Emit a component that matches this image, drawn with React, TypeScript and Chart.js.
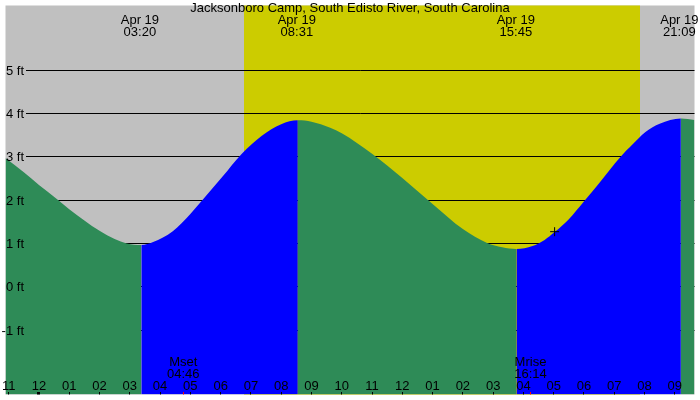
import React, { useEffect, useRef } from "react";
import { Chart, registerables } from "chart.js";

Chart.register(...registerables);

const TITLE = "Jacksonboro Camp, South Edisto River, South Carolina";

// Tide curve: hours after Apr 19 00:00, height in feet
const tideHours = [
  -1.11, -0.5, 0.0, 0.62, 1.0, 1.5, 2.0, 2.5, 2.9, 3.38,
  3.77, 4.42, 5.0, 5.4, 6.05, 6.7, 7.35, 8.0, 8.55,
  9.0, 9.62, 10.0, 10.5, 11.0, 11.5, 12.0, 13.0, 14.0, 14.8, 15.3, 15.77,
  16.3, 16.7, 17.03, 17.5, 18.01, 18.5, 19.21, 19.6, 20.03, 20.5, 21.2, 21.65,
];
const tideFeet = [
  2.96, 2.63, 2.34, 2.0, 1.78, 1.52, 1.28, 1.09, 0.99, 0.95,
  1.02, 1.27, 1.67, 1.99, 2.52, 3.06, 3.47, 3.74, 3.83,
  3.8, 3.66, 3.53, 3.31, 3.06, 2.79, 2.5, 1.9, 1.32, 1.0, 0.9, 0.86,
  0.93, 1.07, 1.25, 1.55, 1.97, 2.38, 2.99, 3.27, 3.56, 3.75, 3.87, 3.84,
];

// High / low tide labels along the top
const extremeHours = [3.333, 8.517, 15.75, 21.15];
const extremeDates = ["Apr 19", "Apr 19", "Apr 19", "Apr 19"];
const extremeTimes = ["03:20", "08:31", "15:45", "21:09"];

// Daylight
const sunriseHour = 6.767;
const sunsetHour = 19.85;

// Moon events
const moonHours = [4.767, 16.233];
const moonNames = ["Mset", "Mrise"];
const moonTimes = ["04:46", "16:14"];

// Hour axis
const hourTicks = [-1, 0, 1, 2, 3, 4, 5, 6, 7, 8, 9, 10, 11, 12, 13, 14, 15, 16, 17, 18, 19, 20, 21];
const hourLabels = [
  "11", "12", "01", "02", "03", "04", "05", "06", "07", "08", "09", "10",
  "11", "12", "01", "02", "03", "04", "05", "06", "07", "08", "09",
];

// Height axis
const gridFeet = [5, 4, 3, 2, 1, 0, -1];
const gridLabels = ["5 ft", "4 ft", "3 ft", "2 ft", "1 ft", "0 ft", "-1 ft"];

// Current time marker
const nowHour = [17.03];
const nowFeet = [1.26];

const NIGHT = "#c0c0c0";
const DAY = "#cccc00";
const RISING = "#0000ff";
const FALLING = "#2e8b57";
const FONT = '13px "Liberation Sans", Arial, sans-serif';

export default function App() {
  const ref = useRef<HTMLCanvasElement>(null);

  useEffect(() => {
    document.documentElement.style.overflow = "hidden";
    document.body.style.margin = "0";
    document.body.style.overflow = "hidden";
    const canvas = ref.current;
    if (!canvas) return;

    const tidePlugin = {
      id: "tideDecor",
      beforeDatasetsDraw(chart: any) {
        const { ctx, chartArea: a, scales } = chart;
        const x = scales.x;
        const y = scales.y;
        ctx.save();
        ctx.fillStyle = NIGHT;
        ctx.fillRect(a.left, a.top, a.right - a.left, a.bottom - a.top);
        const sx = Math.round(x.getPixelForValue(sunriseHour));
        const ex = Math.round(x.getPixelForValue(sunsetHour));
        ctx.fillStyle = DAY;
        ctx.fillRect(sx, a.top, ex - sx, a.bottom - a.top);
        ctx.strokeStyle = "#000";
        ctx.lineWidth = 1;
        gridFeet.forEach((v) => {
          const py = Math.round(y.getPixelForValue(v)) + 0.5;
          ctx.beginPath();
          ctx.moveTo(26, py);
          ctx.lineTo(a.right, py);
          ctx.stroke();
        });
        ctx.restore();
      },
      afterDatasetsDraw(chart: any) {
        const { ctx, chartArea: a, scales } = chart;
        const x = scales.x;
        const y = scales.y;
        ctx.save();
        ctx.font = FONT;
        ctx.fillStyle = "#000";
        ctx.textBaseline = "alphabetic";

        // Title
        ctx.textAlign = "center";
        ctx.fillText(TITLE, (a.left + a.right) / 2, 12);

        // Extremes
        extremeHours.forEach((h, i) => {
          const px = x.getPixelForValue(h);
          ctx.fillText(extremeDates[i], px, 24);
          ctx.fillText(extremeTimes[i], px, 36);
        });

        // Y labels
        ctx.textAlign = "right";
        gridFeet.forEach((v, i) => {
          const py = Math.round(y.getPixelForValue(v));
          ctx.fillText(gridLabels[i], 24, py + 5);
        });

        // Moon labels
        ctx.textAlign = "center";
        moonHours.forEach((h, i) => {
          const px = x.getPixelForValue(h);
          ctx.fillText(moonNames[i], px, 366);
          ctx.fillText(moonTimes[i], px, 378);
        });

        // Hour labels and ticks
        hourTicks.forEach((h, i) => {
          const px = x.getPixelForValue(h);
          ctx.fillStyle = "#000";
          ctx.fillText(hourLabels[i], px, 390);
          const fx = Math.floor(px);
          if (h === 0) ctx.fillRect(fx - 1, 392, 3, a.bottom - 392);
          else ctx.fillRect(fx, 392, 1, a.bottom - 392);
        });

        // Moon ticks
        ctx.fillStyle = "#ff0000";
        moonHours.forEach((h) => {
          const fx = Math.floor(x.getPixelForValue(h));
          ctx.fillRect(fx, 392, 1, a.bottom - 392);
        });
        ctx.restore();
      },
    };

    const chart = new Chart(canvas, {
      type: "line",
      data: {
        datasets: [
          {
            label: "now",
            data: nowHour.map((h, i) => ({ x: h, y: nowFeet[i] })),
            showLine: false,
            pointStyle: "cross",
            pointRadius: 4.5,
            pointBorderColor: "#000",
            pointBorderWidth: 1,
            fill: false,
          },
          {
            label: "tide",
            data: tideHours.map((h, i) => ({ x: h, y: tideFeet[i] })),
            borderWidth: 0,
            borderColor: "rgba(0,0,0,0)",
            backgroundColor: FALLING,
            pointRadius: 0,
            fill: "start",
            cubicInterpolationMode: "monotone",
            segment: {
              backgroundColor: (c: any) => (c.p1.parsed.y > c.p0.parsed.y ? RISING : FALLING),
            },
          },
        ],
      },
      options: {
        animation: false,
        responsive: false,
        devicePixelRatio: 1,
        events: [],
        layout: { padding: 0 },
        plugins: { legend: { display: false }, tooltip: { enabled: false }, title: { display: false } },
        scales: {
          x: { type: "linear", min: -1.105, max: 21.65, display: false },
          y: { type: "linear", min: -2.498, max: 6.481, display: false },
        },
      },
      plugins: [tidePlugin],
    } as any);

    return () => chart.destroy();
  }, []);

  return (
    <div style={{ position: "fixed", left: 0, top: 0, width: 700, height: 400, overflow: "hidden" }}>
      <canvas ref={ref} width={700} height={400} style={{ display: "block", width: 700, height: 400 }} />
    </div>
  );
}
